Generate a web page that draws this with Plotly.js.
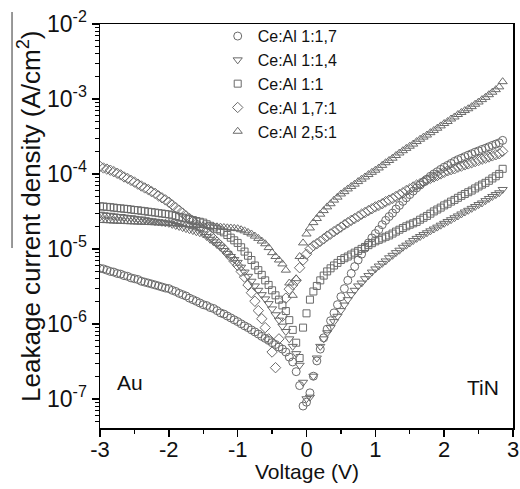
<!DOCTYPE html>
<html>
<head>
<meta charset="utf-8">
<script src="https://cdn.plot.ly/plotly-3.0.1.min.js"></script>
<style>html,body{margin:0;padding:0;background:#fff;}#chart{width:520px;height:489px;}</style>
</head>
<body>
<div id="chart"></div>
<script>
const voltage = [-3,-2.95,-2.9,-2.85,-2.8,-2.75,-2.7,-2.65,-2.6,-2.55,
-2.5,-2.45,-2.4,-2.35,-2.3,-2.25,-2.2,-2.15,-2.1,-2.05,
-2,-1.95,-1.9,-1.85,-1.8,-1.75,-1.7,-1.65,-1.6,-1.55,
-1.5,-1.45,-1.4,-1.35,-1.3,-1.25,-1.2,-1.15,-1.1,-1.05,
-1,-0.95,-0.9,-0.85,-0.8,-0.75,-0.7,-0.65,-0.6,-0.55,
-0.5,-0.45,-0.4,-0.35,-0.3,-0.25,-0.2,-0.15,-0.1,-0.05,
0,0.05,0.1,0.15,0.2,0.25,0.3,0.35,0.4,0.45,
0.5,0.55,0.6,0.65,0.7,0.75,0.8,0.85,0.9,0.95,
1,1.05,1.1,1.15,1.2,1.25,1.3,1.35,1.4,1.45,
1.5,1.55,1.6,1.65,1.7,1.75,1.8,1.85,1.9,1.95,
2,2.05,2.1,2.15,2.2,2.25,2.3,2.35,2.4,2.45,
2.5,2.55,2.6,2.65,2.7,2.75,2.8,2.85];

const seriesNames = ["Ce:Al 1:1,7", "Ce:Al 1:1,4", "Ce:Al 1:1", "Ce:Al 1,7:1", "Ce:Al 2,5:1"];

const ceAl_1_17 = [5.5e-6,5.4e-6,5.2e-6,5.0e-6,4.9e-6,4.7e-6,4.6e-6,4.4e-6,4.3e-6,4.1e-6,
4.0e-6,3.9e-6,3.7e-6,3.6e-6,3.5e-6,3.4e-6,3.3e-6,3.2e-6,3.1e-6,3.0e-6,
2.95e-6,2.8e-6,2.7e-6,2.55e-6,2.45e-6,2.35e-6,2.2e-6,2.1e-6,2.0e-6,1.9e-6,
1.8e-6,1.75e-6,1.65e-6,1.6e-6,1.5e-6,1.4e-6,1.35e-6,1.27e-6,1.2e-6,1.13e-6,
1.07e-6,1.0e-6,9.4e-7,8.9e-7,8.3e-7,7.8e-7,7.3e-7,6.8e-7,6.4e-7,6.0e-7,
5.6e-7,5.3e-7,4.9e-7,4.6e-7,4.2e-7,3.6e-7,3.1e-7,2.3e-7,1.5e-7,8e-8,
9e-8,1.2e-7,2.0e-7,3.2e-7,4.6e-7,6.5e-7,8.5e-7,1.1e-6,1.4e-6,1.8e-6,
2.3e-6,2.95e-6,3.8e-6,4.7e-6,5.8e-6,7.1e-6,8.5e-6,1.02e-5,1.2e-5,1.4e-5,
1.6e-5,1.8e-5,2.1e-5,2.4e-5,2.7e-5,3.0e-5,3.4e-5,3.8e-5,4.3e-5,4.8e-5,
5.3e-5,5.9e-5,6.5e-5,7.1e-5,7.8e-5,8.5e-5,9.3e-5,1.0e-4,1.07e-4,1.15e-4,
1.23e-4,1.3e-4,1.38e-4,1.47e-4,1.55e-4,1.62e-4,1.7e-4,1.78e-4,1.86e-4,1.95e-4,
2.03e-4,2.12e-4,2.2e-4,2.3e-4,2.4e-4,2.5e-4,2.6e-4,2.8e-4];

const ceAl_1_14 = [2.9e-5,2.85e-5,2.8e-5,2.8e-5,2.75e-5,2.7e-5,2.7e-5,2.65e-5,2.6e-5,2.6e-5,
2.55e-5,2.5e-5,2.5e-5,2.45e-5,2.4e-5,2.37e-5,2.33e-5,2.3e-5,2.26e-5,2.22e-5,
2.19e-5,2.12e-5,2.05e-5,1.99e-5,1.92e-5,1.86e-5,1.8e-5,1.75e-5,1.69e-5,1.64e-5,
1.58e-5,1.46e-5,1.34e-5,1.24e-5,1.14e-5,1.05e-5,9.5e-6,8.7e-6,7.9e-6,7.2e-6,
6.6e-6,5.7e-6,4.9e-6,4.3e-6,3.7e-6,3.2e-6,2.8e-6,2.45e-6,2.15e-6,1.86e-6,
1.58e-6,1.32e-6,1.12e-6,9.3e-7,7.9e-7,6.3e-7,5.0e-7,4.0e-7,2.8e-7,1.66e-7,
1.0e-7,1.05e-7,2.0e-7,3.5e-7,5.0e-7,6.3e-7,7.6e-7,8.9e-7,1.07e-6,1.26e-6,
1.5e-6,1.78e-6,2.1e-6,2.45e-6,2.8e-6,3.2e-6,3.5e-6,4.0e-6,4.4e-6,4.9e-6,
5.4e-6,5.9e-6,6.4e-6,6.9e-6,7.6e-6,8.2e-6,8.9e-6,9.6e-6,1.05e-5,1.12e-5,
1.2e-5,1.29e-5,1.38e-5,1.46e-5,1.55e-5,1.64e-5,1.74e-5,1.84e-5,1.95e-5,2.07e-5,
2.19e-5,2.32e-5,2.45e-5,2.6e-5,2.75e-5,2.92e-5,3.1e-5,3.27e-5,3.47e-5,3.67e-5,
3.9e-5,4.1e-5,4.4e-5,4.7e-5,5.0e-5,5.3e-5,5.6e-5,6.2e-5];

const ceAl_1_1 = [3.7e-5,3.67e-5,3.63e-5,3.6e-5,3.55e-5,3.5e-5,3.47e-5,3.43e-5,3.4e-5,3.35e-5,
3.3e-5,3.27e-5,3.22e-5,3.18e-5,3.13e-5,3.09e-5,3.05e-5,3.0e-5,2.96e-5,2.92e-5,
2.88e-5,2.81e-5,2.74e-5,2.67e-5,2.61e-5,2.54e-5,2.48e-5,2.42e-5,2.35e-5,2.3e-5,
2.24e-5,2.13e-5,2.03e-5,1.93e-5,1.83e-5,1.75e-5,1.66e-5,1.53e-5,1.41e-5,1.3e-5,
1.2e-5,1.05e-5,9.2e-6,8.1e-6,7.1e-6,6.0e-6,5.2e-6,4.5e-6,3.8e-6,3.3e-6,
2.8e-6,2.4e-6,2.1e-6,1.76e-6,1.48e-6,1.12e-6,8.3e-7,5.6e-7,3.5e-7,8.9e-7,
1.38e-6,2.1e-6,2.7e-6,3.2e-6,3.8e-6,4.4e-6,5.0e-6,5.5e-6,6.0e-6,6.5e-6,
7.1e-6,7.5e-6,7.9e-6,8.4e-6,8.9e-6,9.4e-6,1.0e-5,1.06e-5,1.12e-5,1.19e-5,
1.26e-5,1.32e-5,1.38e-5,1.45e-5,1.51e-5,1.6e-5,1.7e-5,1.8e-5,1.9e-5,2.0e-5,
2.1e-5,2.19e-5,2.29e-5,2.45e-5,2.6e-5,2.75e-5,2.95e-5,3.16e-5,3.35e-5,3.55e-5,
3.8e-5,4.0e-5,4.27e-5,4.5e-5,4.8e-5,5.1e-5,5.4e-5,5.7e-5,6.0e-5,6.4e-5,
6.8e-5,7.2e-5,7.6e-5,8.1e-5,8.7e-5,9.3e-5,1.0e-4,1.17e-4];

const ceAl_17_1 = [1.26e-4,1.2e-4,1.16e-4,1.12e-4,1.07e-4,1.02e-4,9.7e-5,9.1e-5,8.7e-5,8.2e-5,
7.8e-5,7.3e-5,6.9e-5,6.5e-5,6.2e-5,5.8e-5,5.5e-5,5.1e-5,4.8e-5,4.5e-5,
4.2e-5,3.85e-5,3.55e-5,3.27e-5,3.0e-5,2.75e-5,2.54e-5,2.34e-5,2.14e-5,1.95e-5,
1.8e-5,1.66e-5,1.51e-5,1.36e-5,1.23e-5,1.11e-5,1.0e-5,8.8e-6,7.8e-6,6.8e-6,
6.0e-6,5.0e-6,4.2e-6,3.3e-6,2.6e-6,2.0e-6,1.5e-6,1.17e-6,8.9e-7,6.3e-7,
4.2e-7,2.6e-7,6.3e-7,1.26e-6,2.2e-6,2.9e-6,3.3e-6,3.8e-6,5.6e-6,7.1e-6,
8.5e-6,1.0e-5,1.1e-5,1.17e-5,1.26e-5,1.36e-5,1.48e-5,1.58e-5,1.7e-5,1.82e-5,
1.95e-5,2.1e-5,2.24e-5,2.4e-5,2.54e-5,2.7e-5,2.9e-5,3.05e-5,3.24e-5,3.43e-5,
3.63e-5,3.8e-5,4.0e-5,4.27e-5,4.47e-5,4.7e-5,5.0e-5,5.3e-5,5.6e-5,6.0e-5,
6.3e-5,6.7e-5,7.1e-5,7.4e-5,7.9e-5,8.3e-5,8.7e-5,9.1e-5,9.5e-5,1.0e-4,
1.05e-4,1.1e-4,1.14e-4,1.17e-4,1.23e-4,1.27e-4,1.32e-4,1.36e-4,1.41e-4,1.46e-4,
1.51e-4,1.57e-4,1.62e-4,1.68e-4,1.74e-4,1.8e-4,1.86e-4,2.0e-4];

const ceAl_25_1 = [2.4e-5,2.39e-5,2.38e-5,2.37e-5,2.35e-5,2.34e-5,2.33e-5,2.32e-5,2.31e-5,2.3e-5,
2.29e-5,2.28e-5,2.27e-5,2.26e-5,2.25e-5,2.24e-5,2.23e-5,2.22e-5,2.21e-5,2.2e-5,
2.19e-5,2.17e-5,2.16e-5,2.14e-5,2.13e-5,2.11e-5,2.1e-5,2.08e-5,2.07e-5,2.06e-5,
2.04e-5,2.02e-5,2.0e-5,1.99e-5,1.97e-5,1.95e-5,1.93e-5,1.91e-5,1.9e-5,1.88e-5,
1.86e-5,1.8e-5,1.74e-5,1.66e-5,1.58e-5,1.48e-5,1.38e-5,1.27e-5,1.17e-5,1.04e-5,
8.9e-6,7.9e-6,7.1e-6,6.3e-6,5.2e-6,3.5e-6,2.4e-6,4.0e-6,7.9e-6,1.2e-5,
1.58e-5,1.9e-5,2.24e-5,2.54e-5,2.9e-5,3.24e-5,3.63e-5,4.0e-5,4.47e-5,4.9e-5,
5.4e-5,5.8e-5,6.3e-5,6.8e-5,7.3e-5,7.9e-5,8.5e-5,9.1e-5,9.8e-5,1.05e-4,
1.12e-4,1.2e-4,1.3e-4,1.41e-4,1.51e-4,1.62e-4,1.76e-4,1.9e-4,2.04e-4,2.19e-4,
2.34e-4,2.5e-4,2.7e-4,2.9e-4,3.1e-4,3.3e-4,3.55e-4,3.8e-4,4.07e-4,4.37e-4,
4.7e-4,5.0e-4,5.4e-4,5.75e-4,6.2e-4,6.6e-4,7.0e-4,7.4e-4,7.9e-4,8.5e-4,
9.1e-4,9.8e-4,1.05e-3,1.14e-3,1.23e-3,1.33e-3,1.45e-3,1.7e-3];

const xTickVals = [-3, -2, -1, 0, 1, 2, 3];
const xTickText = ["-3", "-2", "-1", "0", "1", "2", "3"];
const yTickVals = [1e-7, 1e-6, 1e-5, 1e-4, 1e-3, 1e-2];
const yTickText = ["10<sup>-7</sup>", "10<sup>-6</sup>", "10<sup>-5</sup>", "10<sup>-4</sup>", "10<sup>-3</sup>", "10<sup>-2</sup>"];

const symbols = ["circle-open", "triangle-down-open", "square-open", "diamond-open", "triangle-up-open"];
const sizes = [8, 8, 7, 8, 8];
const allY = [ceAl_1_17, ceAl_1_14, ceAl_1_1, ceAl_17_1, ceAl_25_1];

const yMinor = [];
for (let e = -8; e <= -3; e++) {
  for (let d = 2; d <= 9; d++) yMinor.push(d * Math.pow(10, e));
}

const FONT = "Liberation Sans, Arial, sans-serif";

const traces = allY.map((ys, i) => ({
  x: voltage,
  y: ys,
  type: "scatter",
  mode: "markers",
  name: seriesNames[i],
  marker: {symbol: symbols[i], size: sizes[i], color: "#6a6a6a", line: {width: 1, color: "#6a6a6a"}}
}));

const layout = {
  width: 520, height: 489,
  margin: {l: 100, r: 7, t: 24, b: 61},
  paper_bgcolor: "#fff", plot_bgcolor: "#fff",
  font: {family: FONT, color: "#111", size: 21},
  showlegend: true,
  legend: {
    x: 0.285, y: 1.012, xanchor: "left", yanchor: "top",
    bgcolor: "rgba(0,0,0,0)", borderwidth: 0,
    font: {family: FONT, size: 16, color: "#111"},
    itemwidth: 30, tracegroupgap: 0
  },
  xaxis: {
    type: "linear", range: [-3, 3],
    tickmode: "array", tickvals: xTickVals, ticktext: xTickText,
    ticks: "outside", ticklen: 7, tickwidth: 1.5, tickcolor: "#000",
    ticklabelstandoff: -6,
    minor: {dtick: 0.5, ticks: "outside", ticklen: 4, tickwidth: 1.2, tickcolor: "#000", showgrid: false},
    showline: true, linewidth: 1.5, linecolor: "#000", mirror: true,
    showgrid: false, zeroline: false,
    tickfont: {family: FONT, size: 22, color: "#111"}
  },
  yaxis: {
    type: "log", range: [-7.39, -2],
    tickmode: "array", tickvals: yTickVals, ticktext: yTickText,
    ticks: "outside", ticklen: 7, tickwidth: 1.5, tickcolor: "#000",
    minor: {tickmode: "array", tickvals: yMinor, ticks: "outside", ticklen: 4, tickwidth: 1, tickcolor: "#000", showgrid: false},
    showline: true, linewidth: 1.5, linecolor: "#000", mirror: true,
    showgrid: false, zeroline: false,
    tickfont: {family: FONT, size: 23, color: "#111"}
  },
  annotations: [
    {text: "Leakage current density (A/cm<sup>2</sup>)", textangle: -90, xref: "paper", yref: "paper",
     x: -0.1695, y: 0.525, xanchor: "center", yanchor: "middle", showarrow: false,
     font: {family: FONT, size: 26, color: "#111"}},
    {text: "Voltage (V)", xref: "paper", yref: "paper", x: 0.5, y: -0.108,
     xanchor: "center", yanchor: "middle", showarrow: false,
     font: {family: FONT, size: 21, color: "#111"}},
    {text: "Au", xref: "paper", yref: "paper", x: 0.0726, y: 0.112, xanchor: "center", yanchor: "middle",
     showarrow: false, font: {family: FONT, size: 21, color: "#111"}},
    {text: "TiN", xref: "paper", yref: "paper", x: 0.927, y: 0.1, xanchor: "center", yanchor: "middle",
     showarrow: false, font: {family: FONT, size: 21, color: "#111"}}
  ],
  shapes: [
    {type: "line", xref: "paper", yref: "paper", x0: -0.213, x1: -0.213, y0: 0.4455, y1: 1.0297,
     line: {color: "#333", width: 1}}
  ]
};

Plotly.newPlot("chart", traces, layout, {staticPlot: true, displayModeBar: false});
</script>
</body>
</html>
